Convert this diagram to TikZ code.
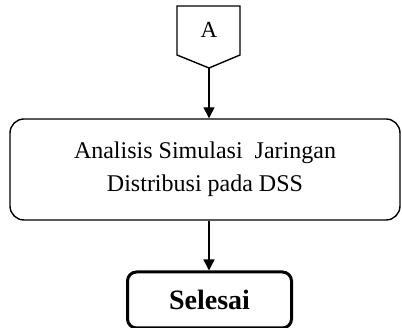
\documentclass[tikz,border=0pt]{standalone}
\usepackage{fontspec}
\setmainfont{Liberation Serif}
\usetikzlibrary{arrows.meta}
\begin{document}
\begin{tikzpicture}[x=1pt,y=-1pt,
  line/.style={line width=1.4pt},
  flow/.style={line, -{Triangle[width=11pt,length=11pt]}},
  procbox/.style={line, draw, rounded corners=14pt, minimum width=390pt, minimum height=101pt,
    align=center, font=\fontsize{24}{33}\selectfont},
  endbox/.style={draw, line width=3pt, rounded corners=9pt, minimum width=164pt, minimum height=56pt,
    font=\fontsize{28}{32}\selectfont\bfseries}]
  \useasboundingbox (0,0) rectangle (402,328);
  % off-page connector
  \draw[line] (177,6) -- (240,6) -- (240,55) -- (209,68) -- (177,55) -- cycle;
  \node (conn) at (209,30) {\fontsize{23}{26}\selectfont A};
  \coordinate (connTip) at (209,68);
  % process box
  \node[procbox] (proc) at (205,169.5) {Analisis Simulasi\ \ Jaringan\\Distribusi pada DSS};
  % terminator
  \node[endbox] (stop) at (209.5,300) {Selesai};
  % connectors
  \draw[flow] (connTip) -- (connTip |- proc.north);
  \draw[flow] (proc.south -| connTip) -- (connTip |- stop.north);
\end{tikzpicture}
\end{document}
